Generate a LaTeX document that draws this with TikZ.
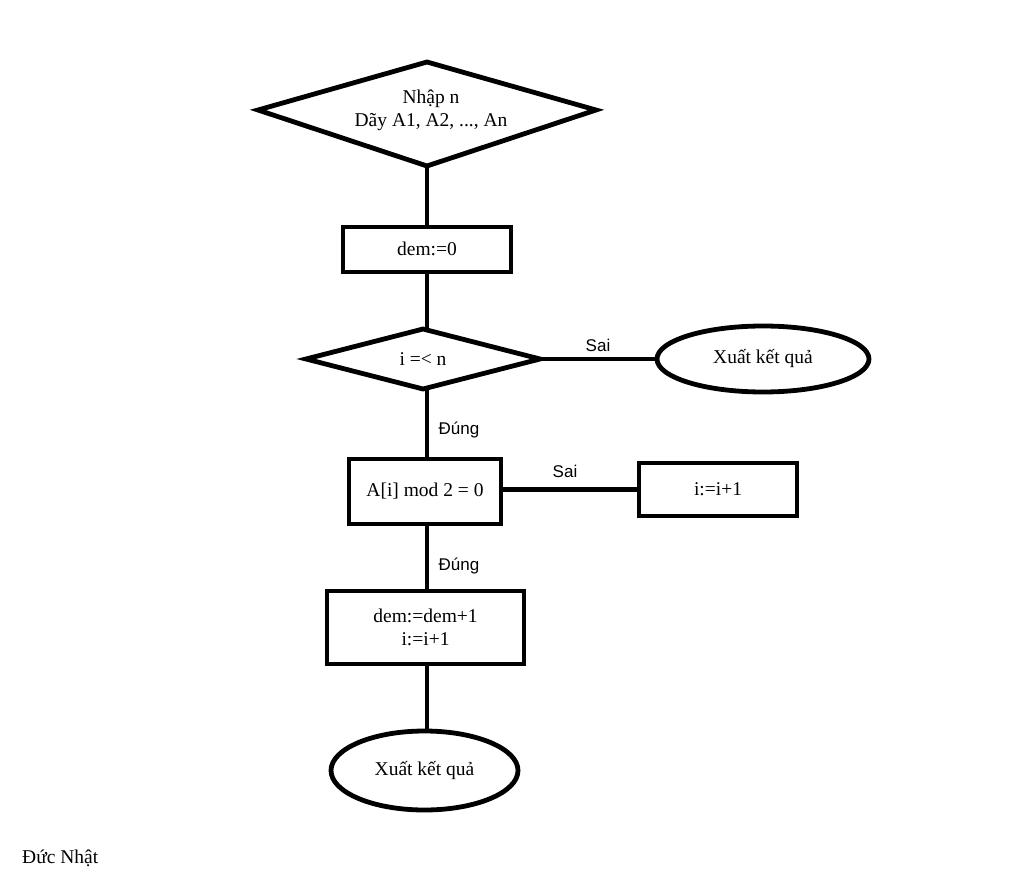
\documentclass[tikz,border=0pt]{standalone}
\usepackage{fontspec}
\setmainfont{Liberation Serif}
\newfontfamily\labfont{Liberation Sans}
\usetikzlibrary{shapes.geometric}
\begin{document}
\begin{tikzpicture}[x=1pt,y=-1pt,
  txt/.style={font=\fontsize{19.5}{23}\selectfont,align=center},
  box/.style={txt,draw,line width=4.8pt,inner sep=0pt},
  lab/.style={font=\labfont\fontsize{17}{20}\selectfont},
  conn/.style={line width=4.8pt}]
\useasboundingbox[fill=white] (0,0) rectangle (1024,885);
\draw[box] (258,110) -- (427,62) -- (596,110) -- (427,166) -- cycle;
\node[txt] (inp) at (431,110) {Nhập n\\Dãy A1, A2, ..., An};
\coordinate (d1b) at (427,166);
\node[box,minimum width=168pt,minimum height=45pt,text depth=2pt] (dem0) at (427,249.5) {dem:=0};
\draw[box] (306,359) -- (423,329) -- (540,359) -- (423,389) -- cycle;
\node[txt] (cond) at (423,359) {i =< n};
\coordinate (d2t) at (427,330);
\coordinate (d2b) at (427,389);
\coordinate (d2r) at (540,359);
\node[box,ellipse,minimum width=212pt,minimum height=66pt] (out1) at (763,359) {\raisebox{-5pt}{Xuất kết quả}};
\node[box,minimum width=152pt,minimum height=65pt] (mod) at (425,491.5) {\raisebox{-2pt}{A[i] mod 2 = 0}};
\node[box,minimum width=158pt,minimum height=53pt] (inc) at (718,489.5) {i:=i+1};
\node[box,minimum width=197pt,minimum height=73pt] (upd) at (425.5,627.5) {dem:=dem+1\\i:=i+1};
\node[box,ellipse,minimum width=187pt,minimum height=79pt] (out2) at (424.5,770.5) {\raisebox{-2pt}{Xuất kết quả}};
\draw[conn] (d1b) -- (dem0.north -| d1b);
\draw[conn] (dem0.south -| d1b) -- (d2t);
\draw[conn] (d2r) -- (out1.west);
\node[lab] (s1) at (598,345) {Sai};
\draw[conn] (d2b) -- (mod.north -| d2b);
\node[lab] (t1) at (459,430) {Đúng};
\draw[conn] (mod.east |- inc.west) -- (inc.west);
\node[lab] (s2) at (565,471) {Sai};
\draw[conn] (mod.south -| d2b) -- (upd.north -| d2b);
\node[lab] (t2) at (459,566) {Đúng};
\draw[conn] (upd.south -| d2b) -- (out2.north -| d2b);
\node[txt,anchor=west,inner sep=0pt] (auth) at (22,858) {Đức Nhật};
\end{tikzpicture}
\end{document}
